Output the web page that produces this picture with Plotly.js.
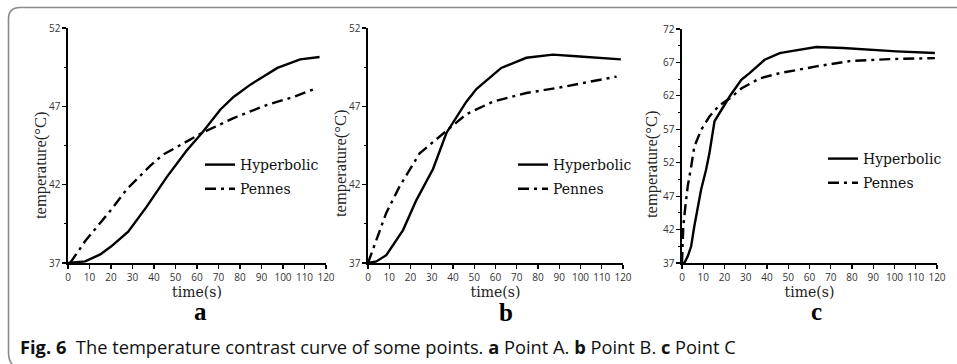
<!DOCTYPE html>
<html>
<head>
<meta charset="utf-8">
<script src="https://cdn.plot.ly/plotly-3.0.1.min.js"></script>
<style>
html,body{margin:0;padding:0;background:#fff;}
#chart{width:957px;height:364px;}
</style>
</head>
<body>
<div id="chart"></div>
<script>
// Panel a (Point A)
var tA_hyp = [0, 8, 15, 20, 28, 36.6, 46, 55.3, 62.3, 70.9, 77, 85, 97.4, 108, 117];
var TA_hyp = [37, 37.1, 37.55, 38.05, 39.0, 40.6, 42.5, 44.2, 45.3, 46.8, 47.6, 48.4, 49.45, 50.0, 50.15];
var tA_pen = [1, 8, 19.5, 27.3, 38.2, 44, 50.6, 62.3, 77, 92.7, 105, 114.5];
var TA_pen = [37, 38.4, 40.3, 41.7, 43.2, 43.9, 44.4, 45.3, 46.25, 47.1, 47.6, 48.1];
// Panel b (Point B)
var tB_hyp = [0, 3.9, 8.6, 16.5, 22.7, 30.6, 36.9, 46.3, 51, 62.7, 74.5, 87, 98, 119];
var TB_hyp = [37, 37.1, 37.5, 39.1, 41.0, 43.0, 45.3, 47.3, 48.1, 49.45, 50.1, 50.3, 50.2, 50.0];
var tB_pen = [0, 3.9, 8.6, 14.9, 24.3, 32.2, 38.4, 46.3, 58.8, 74.5, 90.2, 106, 117];
var TB_pen = [37, 38.5, 40.2, 41.9, 44.0, 44.9, 45.6, 46.5, 47.3, 47.85, 48.2, 48.6, 48.9];
// Panel c (Point C)
var tC_hyp = [0, 1.1, 2.7, 4.3, 5.8, 7.4, 9, 11.3, 12.9, 15.3, 18.4, 22.4, 27.9, 31.8, 38.9, 46, 50.7, 63.2, 75.8, 88.3, 100.9, 119];
var TC_hyp = [37, 37, 38, 39.5, 42.5, 45.5, 48, 50.9, 53.4, 58.2, 59.9, 61.9, 64.4, 65.4, 67.4, 68.4, 68.65, 69.3, 69.15, 68.9, 68.65, 68.4];
var tC_pen = [0, 0.6, 1.6, 2.7, 4.3, 5.8, 9, 12.9, 17.6, 22.4, 27.9, 36.5, 46, 50.7, 63.2, 78.9, 97.7, 119];
var TC_pen = [37, 42.5, 45.5, 48.5, 51.4, 54.4, 56.9, 58.9, 60.6, 61.6, 63.1, 64.6, 65.4, 65.7, 66.4, 67.2, 67.5, 67.65];

var seriesNames = ['Hyperbolic', 'Pennes'];
var panelLabels = ['a', 'b', 'c'];
var xTitle = 'time(s)';
var yTitle = 'temperature(°C)';
var caption = '<b>Fig. 6</b>  The temperature contrast curve of some points. <b>a</b> Point A. <b>b</b> Point B. <b>c</b> Point C';

var W = 957, H = 364;
function px(x){ return x / W; }
function py(y){ return 1 - y / H; }

var dashPen = '11px,5px,3px,5px';
function tr(x, y, name, ax, dash, leg, grp){
  return {x: x, y: y, name: name, type: 'scatter', mode: 'lines',
    xaxis: 'x' + ax, yaxis: 'y' + ax, legend: leg, legendgroup: grp,
    line: {color: '#000', width: 2.4, dash: dash}};
}
var data = [
  tr(tA_hyp, TA_hyp, seriesNames[0], '', 'solid', 'legend', 'g1'),
  tr(tA_pen, TA_pen, seriesNames[1], '', dashPen, 'legend', 'g2'),
  tr(tB_hyp, TB_hyp, seriesNames[0], '2', 'solid', 'legend2', 'g1'),
  tr(tB_pen, TB_pen, seriesNames[1], '2', dashPen, 'legend2', 'g2'),
  tr(tC_hyp, TC_hyp, seriesNames[0], '3', 'solid', 'legend3', 'g1'),
  tr(tC_pen, TC_pen, seriesNames[1], '3', dashPen, 'legend3', 'g2')
];

var tickFont = {family: 'Open Sans, sans-serif', size: 10, color: '#333'};
var xTitleFont = {family: 'DejaVu Serif, serif', size: 14, color: '#222'};
var yTitleFont = {family: 'Liberation Serif, serif', size: 16.5, color: '#222'};
function xax(domain){
  return {domain: domain, range: [0, 120], dtick: 10, tick0: 0, showline: true, linecolor: '#000', linewidth: 1.6,
    ticks: 'outside', ticklen: 4, tickwidth: 1.2, tickcolor: '#000', showgrid: false, zeroline: false,
    tickfont: tickFont, title: {text: xTitle, font: xTitleFont, standoff: 2}, fixedrange: true};
}
function yax(domain, range, anchor){
  return {domain: domain, range: range, dtick: 5, tick0: 37, showline: true, linecolor: '#000', linewidth: 1.6,
    ticks: 'outside', ticklen: 4, tickwidth: 1.2, tickcolor: '#000', showgrid: false, zeroline: false,
    minor: {dtick: 2.5, tick0: 37, ticks: 'outside', ticklen: 2.5, tickwidth: 1, tickcolor: '#000', showgrid: false},
    tickfont: tickFont, anchor: anchor, fixedrange: true};
}
var yDom = [py(263), py(28)];
var legFont = {family: 'DejaVu Serif, serif', size: 14, color: '#111'};
function leg(x, y){
  return {x: x, y: y, xanchor: 'left', yanchor: 'top', bgcolor: 'rgba(0,0,0,0)', borderwidth: 0,
    font: legFont, traceorder: 'grouped', tracegroupgap: 3, itemwidth: 30};
}
function yTitleAnn(x, y){
  return {text: yTitle, xref: 'paper', yref: 'paper', x: px(x), y: py(y), showarrow: false, textangle: -90,
    font: yTitleFont, xanchor: 'center', yanchor: 'middle'};
}
var labelFont = {family: 'Liberation Serif, serif', size: 25, color: '#000'};
var layout = {
  width: W, height: H, margin: {l: 0, r: 0, t: 0, b: 0},
  paper_bgcolor: '#fff', plot_bgcolor: 'rgba(0,0,0,0)',
  showlegend: true,
  xaxis: xax([px(68), px(326)]), yaxis: yax(yDom, [37, 52], 'x'),
  xaxis2: xax([px(368), px(623)]), yaxis2: yax(yDom, [37, 52], 'x2'),
  xaxis3: xax([px(682), px(937)]), yaxis3: yax([py(263), py(29)], [37, 72], 'x3'),
  legend: leg(px(200), py(149)),
  legend2: leg(px(513), py(149)),
  legend3: leg(px(823), py(143)),
  annotations: [
    yTitleAnn(41, 166), yTitleAnn(341, 164), yTitleAnn(652, 165),
    {text: '<b>' + panelLabels[0] + '</b>', xref: 'paper', yref: 'paper', x: px(200), y: py(311), showarrow: false, font: labelFont, xanchor: 'center', yanchor: 'middle'},
    {text: '<b>' + panelLabels[1] + '</b>', xref: 'paper', yref: 'paper', x: px(506), y: py(312), showarrow: false, font: labelFont, xanchor: 'center', yanchor: 'middle'},
    {text: '<b>' + panelLabels[2] + '</b>', xref: 'paper', yref: 'paper', x: px(816), y: py(311), showarrow: false, font: labelFont, xanchor: 'center', yanchor: 'middle'},
    {text: caption, xref: 'paper', yref: 'paper', x: px(18), y: py(346), showarrow: false, xanchor: 'left', yanchor: 'middle',
      font: {family: 'Open Sans, sans-serif', size: 18.3, color: '#111'}}
  ],
  shapes: [
    {type: 'path', xref: 'paper', yref: 'paper', layer: 'below',
      path: 'M ' + px(980) + ',' + py(7.5) + ' L ' + px(20) + ',' + py(7.5) + ' Q ' + px(8.5) + ',' + py(7.5) + ' ' + px(8.5) + ',' + py(19) +
            ' L ' + px(8.5) + ',' + py(352) + ' Q ' + px(8.5) + ',' + py(362) + ' ' + px(14) + ',' + py(366),
      line: {color: '#8a8a8a', width: 1.6}}
  ]
};
Plotly.newPlot('chart', data, layout, {staticPlot: true, displayModeBar: false});
</script>
</body>
</html>
